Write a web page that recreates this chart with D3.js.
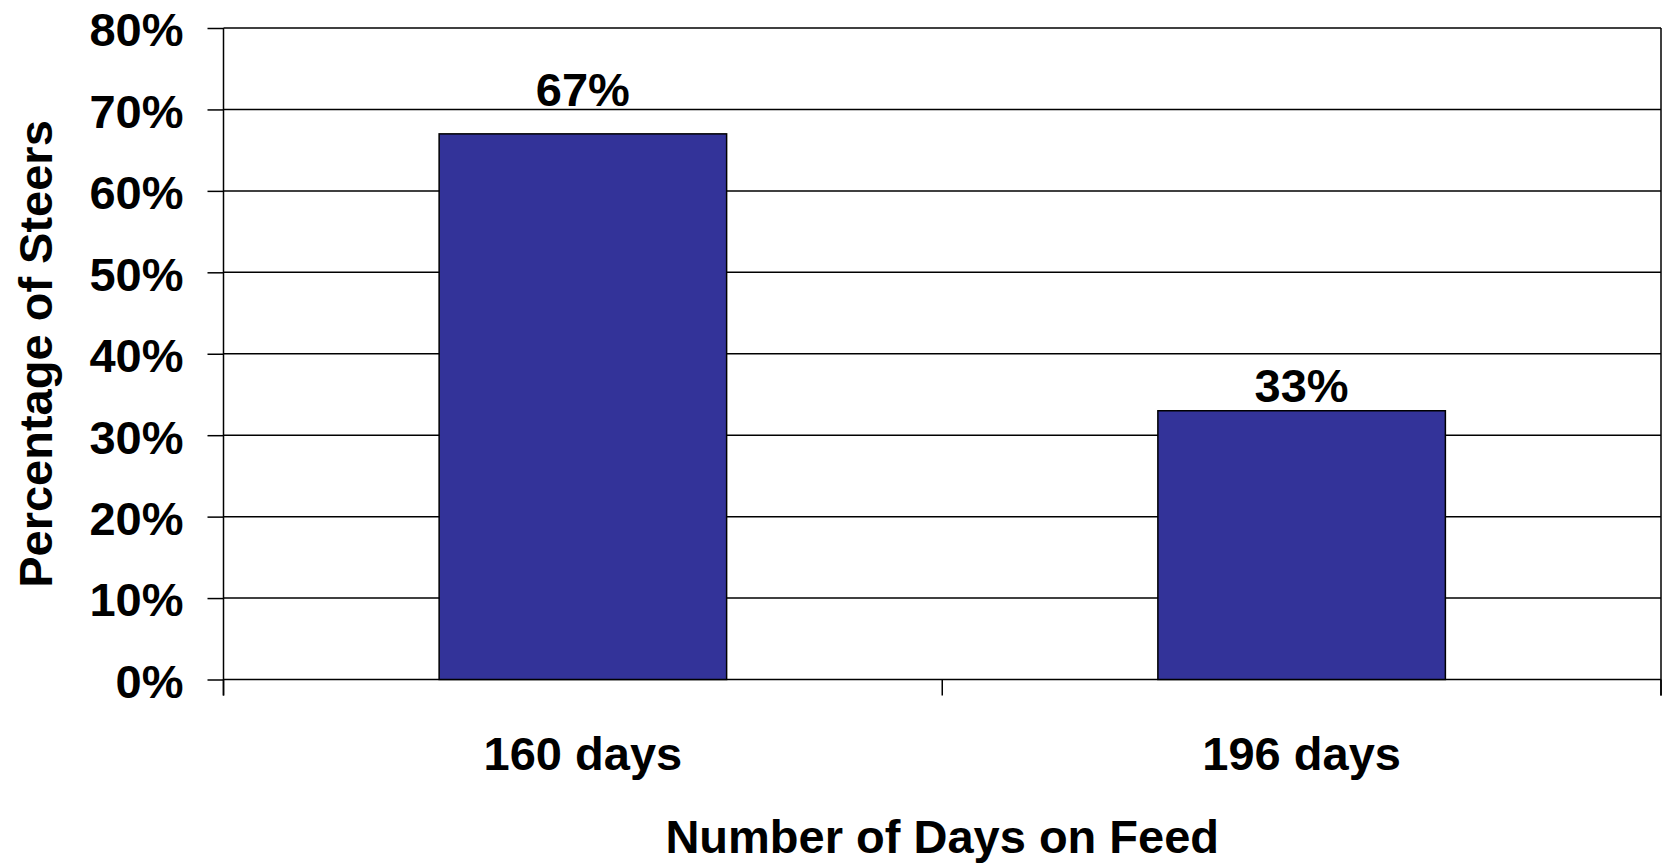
<!DOCTYPE html>
<html>
<head>
<meta charset="utf-8">
<script src="https://cdn.jsdelivr.net/npm/d3@7"></script>
<style>
  html, body { margin: 0; padding: 0; background: #fff; }
  svg { display: block; font-family: "Liberation Sans", Arial, Helvetica, sans-serif; font-weight: bold; }
</style>
</head>
<body>
<svg id="chart" width="1663" height="863"></svg>
<script>
const categories = ["160 days", "196 days"];
const values = [0.67, 0.33];
const valueLabels = ["67%", "33%"];
const yTicks = [0, 0.1, 0.2, 0.3, 0.4, 0.5, 0.6, 0.7, 0.8];
const yTitle = "Percentage of Steers";
const xTitle = "Number of Days on Feed";

(function () {
const svg = d3.select("#chart");
const mLeft = 223.5, mRight = 1661, mTop = 28, mBottom = 679.5;
const labelGap = [28, 8.5];

const y = d3.scaleLinear().domain([0, 0.8]).range([mBottom, mTop]);
const xCell = d3.scaleBand().domain(categories).range([mLeft, mRight]).padding(0);
const xBar = d3.scaleBand().domain(categories).range([mLeft, mRight]).paddingInner(0.6).paddingOuter(0.3);

// gridlines
svg.append("g").selectAll("line").data(yTicks).join("line")
  .attr("x1", mLeft).attr("x2", mRight)
  .attr("y1", d => y(d)).attr("y2", d => y(d))
  .attr("stroke", "#000").attr("stroke-width", 1.5);

// right border
svg.append("line").attr("x1", mRight).attr("x2", mRight).attr("y1", mTop).attr("y2", mBottom + 16)
  .attr("stroke", "#000").attr("stroke-width", 1.5);

// bars
svg.append("g").selectAll("rect").data(values).join("rect")
  .attr("x", (d, i) => xBar(categories[i]))
  .attr("width", xBar.bandwidth())
  .attr("y", d => y(d))
  .attr("height", d => y(0) - y(d))
  .attr("fill", "#333399")
  .attr("stroke", "#000").attr("stroke-width", 1.5);

// y axis
const yAxis = d3.axisLeft(y).tickValues(yTicks).tickFormat(d3.format(".0%")).tickSize(16).tickPadding(24);
const gy = svg.append("g").attr("transform", `translate(${mLeft},0)`).call(yAxis);
gy.select(".domain").attr("stroke", "#000").attr("stroke-width", 1.5)
  .attr("d", `M0,${mTop}V${mBottom + 16}`);
gy.selectAll(".tick line").attr("stroke", "#000").attr("stroke-width", 1.5);
gy.selectAll(".tick text").attr("font-size", 47).attr("font-weight", "bold")
  .attr("font-family", "'Liberation Sans', Arial, sans-serif").attr("fill", "#000").attr("dy", "0.38em");

// x axis ticks at category boundaries
const xBounds = categories.map(c => xCell(c)).concat([xCell(categories[categories.length - 1]) + xCell.bandwidth()]);
svg.append("g").selectAll("line").data(xBounds).join("line")
  .attr("x1", d => d).attr("x2", d => d)
  .attr("y1", mBottom).attr("y2", mBottom + 16)
  .attr("stroke", "#000").attr("stroke-width", 1.5);

// x labels
svg.append("g").selectAll("text").data(categories).join("text")
  .attr("x", d => xCell(d) + xCell.bandwidth() / 2)
  .attr("y", 770)
  .attr("text-anchor", "middle").attr("font-size", 47).attr("fill", "#000")
  .text(d => d);

// value labels
svg.append("g").selectAll("text").data(values).join("text")
  .attr("x", (d, i) => xBar(categories[i]) + xBar.bandwidth() / 2)
  .attr("y", (d, i) => y(d) - labelGap[i])
  .attr("text-anchor", "middle").attr("font-size", 47).attr("fill", "#000")
  .text((d, i) => valueLabels[i]);

// axis titles
svg.append("text")
  .attr("x", (mLeft + mRight) / 2).attr("y", 853)
  .attr("text-anchor", "middle").attr("font-size", 47).attr("fill", "#000")
  .text(xTitle);

svg.append("text")
  .attr("transform", `translate(52,354) rotate(-90)`)
  .attr("text-anchor", "middle").attr("font-size", 47).attr("fill", "#000")
  .text(yTitle);
})();
</script>
</body>
</html>
